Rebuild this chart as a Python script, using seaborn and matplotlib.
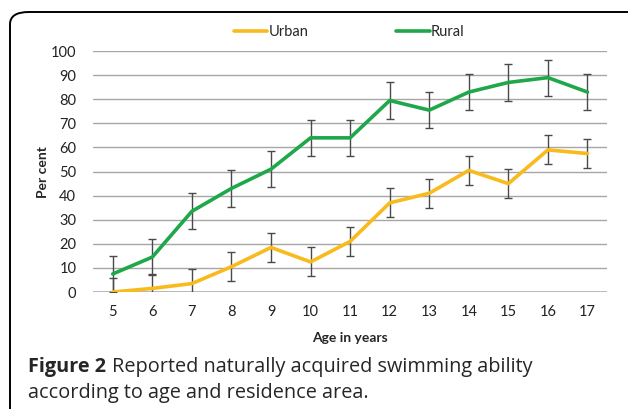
import numpy as np
import pandas as pd
import matplotlib
matplotlib.use("Agg")
import matplotlib.pyplot as plt
from matplotlib.patches import FancyBboxPatch
from matplotlib.lines import Line2D
import seaborn as sns

# ====================== DATA ======================
ages = [5, 6, 7, 8, 9, 10, 11, 12, 13, 14, 15, 16, 17]
urban = [0, 1.5, 3.5, 10.5, 18.5, 12.5, 21, 37, 41, 50.5, 45, 59, 57.5]
urban_err = [6, 6, 6, 6, 6, 6, 6, 6, 6, 6, 6, 6, 6]
rural = [7.5, 14.5, 33.5, 43, 51, 64, 64, 79.5, 75.5, 83, 87, 89, 83]
rural_err = [7.5, 7.5, 7.5, 7.5, 7.5, 7.5, 7.5, 7.5, 7.5, 7.5, 7.5, 7.5, 7.5]
yticks = list(range(0, 101, 10))

URBAN_COLOR = "#F9BA1C"
RURAL_COLOR = "#1EA84A"
CAPTION_FONT = ["Open Sans", "DejaVu Sans"]

sns.set_style("white")
plt.rcParams["font.family"] = ["Lato", "DejaVu Sans"]

df = pd.DataFrame({
    "age": ages * 2,
    "pct": urban + rural,
    "area": ["Urban"] * len(ages) + ["Rural"] * len(ages),
})

fig = plt.figure(figsize=(6.28, 4.09), dpi=100)
ax = fig.add_axes([0.148, 0.286, 0.819, 0.589])

# horizontal gridlines
for y in yticks:
    ax.axhline(y, color="#A6A6A6", lw=1.1 if y == 0 else 1.0, zorder=0)

# error bars
for vals, errs in [(urban, urban_err), (rural, rural_err)]:
    ax.errorbar(ages, vals, yerr=errs, fmt="none", ecolor="#4A4A4A",
                elinewidth=1.0, capsize=3, capthick=1.0, zorder=2)

sns.lineplot(data=df, x="age", y="pct", hue="area",
             palette={"Urban": URBAN_COLOR, "Rural": RURAL_COLOR},
             linewidth=2.6, ax=ax, legend=False, zorder=3)

ax.set_xlim(4.5, 17.5)
ax.set_ylim(0, 100)
ax.set_xticks(ages)
ax.set_yticks(yticks)
ax.tick_params(axis="x", labelsize=10.5, colors="#222222", length=0, pad=9)
ax.tick_params(axis="y", labelsize=10.5, colors="#222222", length=0, pad=12)
sns.despine(ax=ax, left=True, bottom=True)

ax.set_xlabel("Age in years", fontsize=10, fontweight="bold", labelpad=10)
ax.set_ylabel("Per cent", fontsize=10, fontweight="bold", labelpad=1)

# legend at top
handles = [Line2D([], [], color=URBAN_COLOR, lw=2.6),
           Line2D([], [], color=RURAL_COLOR, lw=2.6)]
fig.legend(handles, ["Urban", "Rural"], loc="center", bbox_to_anchor=(0.556, 0.922),
           ncol=2, frameon=False, fontsize=10.5, handlelength=2.3,
           handletextpad=0.1, columnspacing=6.0)

# caption: bold label then plain text right after it
t1 = fig.text(0.045, 0.103, "Figure 2", fontsize=14.3, fontweight="bold",
              family=CAPTION_FONT, va="center")
fig.canvas.draw()
bb = t1.get_window_extent()
x_next = (bb.x1 + 6) / fig.bbox.width
fig.text(x_next, 0.103, "Reported naturally acquired swimming ability",
         fontsize=14.3, family=CAPTION_FONT, va="center")
fig.text(0.045, 0.039, "according to age and residence area.",
         fontsize=14.3, family=CAPTION_FONT, va="center")

# rounded frame running off the right and bottom edges
frame = FancyBboxPatch((10 / 628, -0.2), 1.2, 1.2 - 12 / 409,
                       boxstyle="round,pad=0,rounding_size=0.03",
                       transform=fig.transFigure, fill=False,
                       edgecolor="black", lw=1.4)
fig.patches.append(frame)

fig.savefig("out.png", dpi=100)
